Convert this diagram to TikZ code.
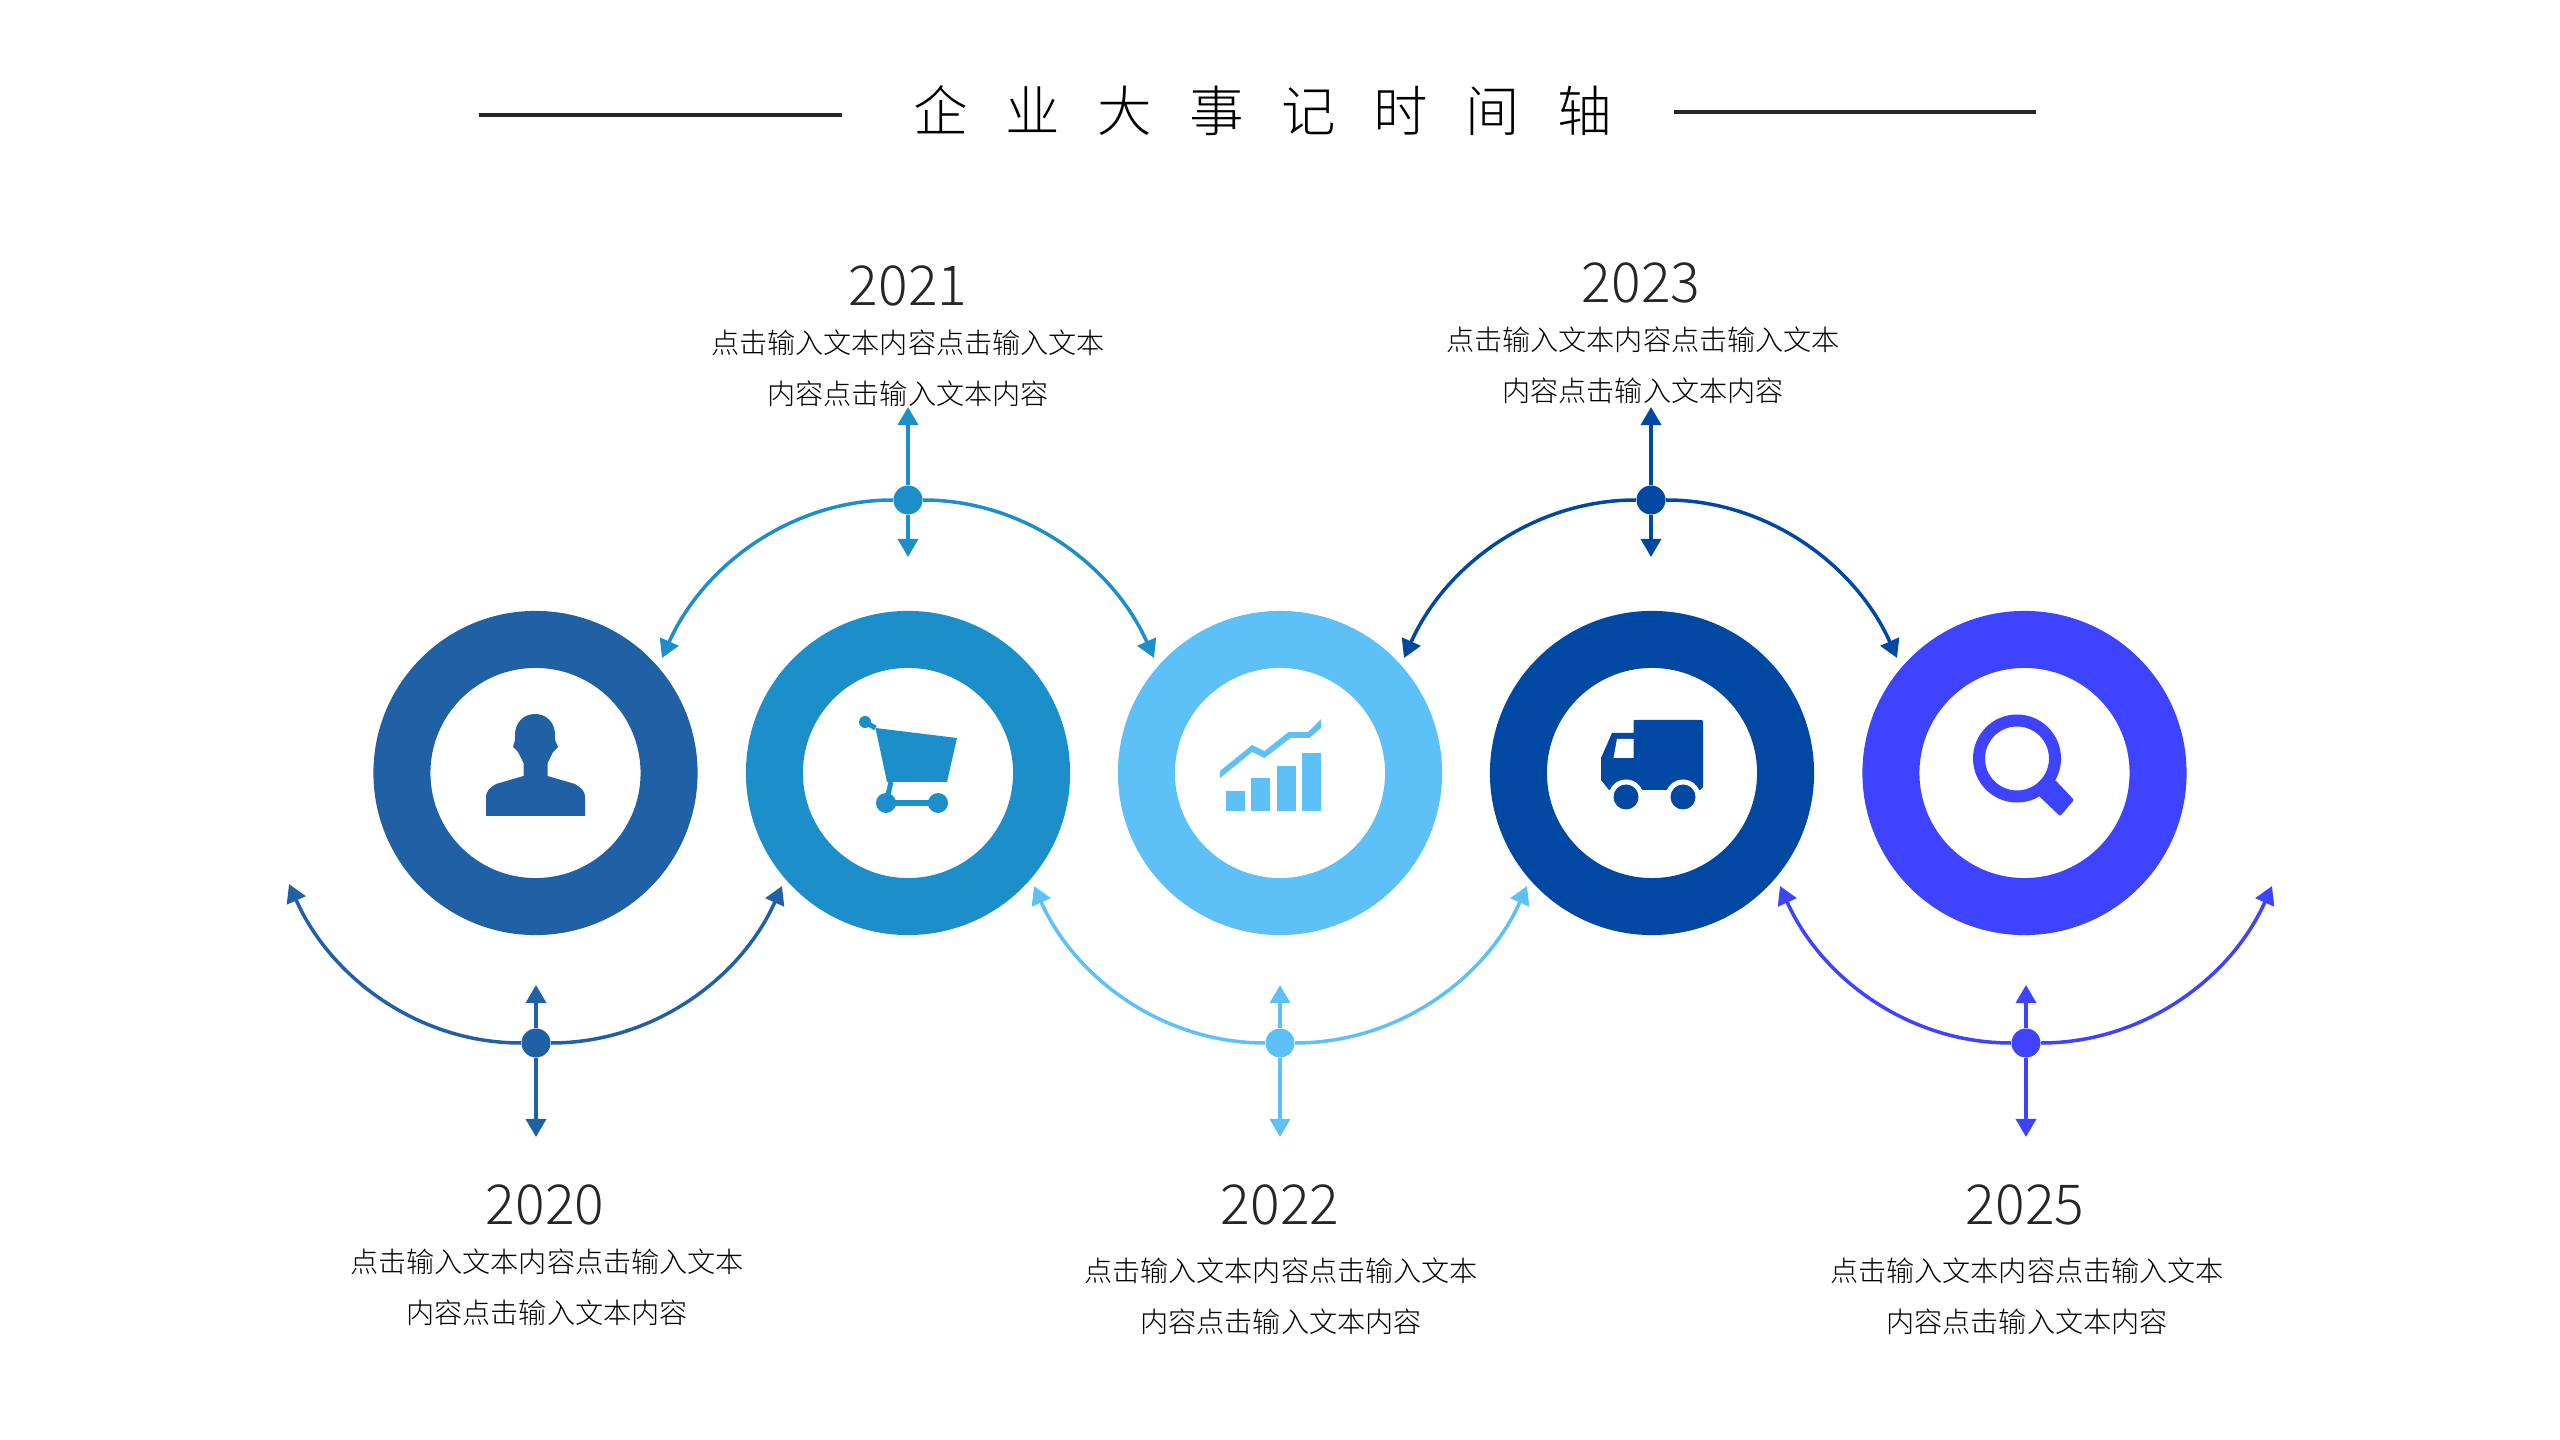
\documentclass[tikz,border=0pt]{standalone}
\usepackage{fontspec}
\usetikzlibrary{arrows.meta}
\newfontfamily\cjk{Noto Sans CJK SC Light}
\definecolor{blueA}{HTML}{2060A4}
\definecolor{blueB}{HTML}{1C8FCA}
\definecolor{blueC}{HTML}{5DC0F7}
\definecolor{blueD}{HTML}{0048A2}
\definecolor{blueE}{HTML}{3E43FF}
\definecolor{ink}{HTML}{262626}
\newcommand{\tgap}{\hspace{3.75mm}}
\tikzset{
	ring/.style={circle,draw=#1,fill=white,line width=5.7mm,minimum size=26.7mm,inner sep=0pt},
	dot/.style={circle,fill=#1,minimum size=2.9mm,inner sep=0pt},
	link/.style={->,draw=#1,line width=.35mm},
	year/.style={text=ink,font=\cjk\fontsize{15.7}{17}\selectfont},
	desc/.style={text=black,align=center,font=\cjk\fontsize{8}{14.5}\selectfont},
}
\begin{document}
\begin{tikzpicture}[x=.01cm,y=-.01cm,>={Triangle[width=2mm,length=1.8mm]}]
	\useasboundingbox (0,0) rectangle (2560,1440);
	% title
	\node[text=black,font=\cjk\fontsize{15.5}{17}\selectfont] (title) at (1263,111) {企\tgap 业\tgap 大\tgap 事\tgap 记\tgap 时\tgap 间\tgap 轴};
	\coordinate (la) at (479,115);
	\coordinate (lb) at (842,115);
	\coordinate (ra) at (1674,112);
	\coordinate (rb) at (2036,112);
	\draw[ink,line width=.4mm] (la) -- (lb);
	\draw[ink,line width=.4mm] (ra) -- (rb);
	% rings
	\node[ring=blueA] (c1) at (535.5,773) {};
	\node[ring=blueB] (c2) at (908,773) {};
	\node[ring=blueC] (c3) at (1280,773) {};
	\node[ring=blueD] (c4) at (1652,773) {};
	\node[ring=blueE] (c5) at (2024.5,773) {};
	% dots
	\node[dot=blueA] (d1) at (536,1043) {};
	\node[dot=blueB] (d2) at (908,500) {};
	\node[dot=blueC] (d3) at (1280,1043) {};
	\node[dot=blueD] (d4) at (1651,500) {};
	\node[dot=blueE] (d5) at (2026,1043) {};
	% arrow ends
	\coordinate (a1) at (289,884);
	\coordinate (b1) at (782,886);
	\coordinate (u1) at (536,985);
	\coordinate (v1) at (536,1137);
	\coordinate (a2) at (662,658);
	\coordinate (b2) at (1154,658);
	\coordinate (u2) at (908,407);
	\coordinate (v2) at (908,557);
	\coordinate (a3) at (1034,886);
	\coordinate (b3) at (1527,886);
	\coordinate (u3) at (1280,985);
	\coordinate (v3) at (1280,1137);
	\coordinate (a4) at (1404,658);
	\coordinate (b4) at (1897,658);
	\coordinate (u4) at (1651,407);
	\coordinate (v4) at (1651,557);
	\coordinate (a5) at (1780,886);
	\coordinate (b5) at (2272,886);
	\coordinate (u5) at (2026,985);
	\coordinate (v5) at (2026,1137);
	% connectors
	\draw[link=blueA] (d1) to[out=180,in=-66,looseness=.93] (a1);
	\draw[link=blueA] (d1) to[out=0,in=-114,looseness=.93] (b1);
	\draw[link=blueA] (d1) -- (u1);
	\draw[link=blueA] (d1) -- (v1);
	\draw[link=blueB] (d2) to[out=180,in=66,looseness=.93] (a2);
	\draw[link=blueB] (d2) to[out=0,in=114,looseness=.93] (b2);
	\draw[link=blueB] (d2) -- (u2);
	\draw[link=blueB] (d2) -- (v2);
	\draw[link=blueC] (d3) to[out=180,in=-66,looseness=.93] (a3);
	\draw[link=blueC] (d3) to[out=0,in=-114,looseness=.93] (b3);
	\draw[link=blueC] (d3) -- (u3);
	\draw[link=blueC] (d3) -- (v3);
	\draw[link=blueD] (d4) to[out=180,in=66,looseness=.93] (a4);
	\draw[link=blueD] (d4) to[out=0,in=114,looseness=.93] (b4);
	\draw[link=blueD] (d4) -- (u4);
	\draw[link=blueD] (d4) -- (v4);
	\draw[link=blueE] (d5) to[out=180,in=-66,looseness=.93] (a5);
	\draw[link=blueE] (d5) to[out=0,in=-114,looseness=.93] (b5);
	\draw[link=blueE] (d5) -- (u5);
	\draw[link=blueE] (d5) -- (v5);
	% labels
	\node[year] (y1) at (545,1205) {2020};
	\node[desc] (t1) at (547,1287) {点击输入文本内容点击输入文本\\内容点击输入文本内容};
	\node[year] (y2) at (908,286) {2021};
	\node[desc] (t2) at (908,368) {点击输入文本内容点击输入文本\\内容点击输入文本内容};
	\node[year] (y3) at (1280,1205) {2022};
	\node[desc] (t3) at (1281,1296) {点击输入文本内容点击输入文本\\内容点击输入文本内容};
	\node[year] (y4) at (1641,283) {2023};
	\node[desc] (t4) at (1643,365) {点击输入文本内容点击输入文本\\内容点击输入文本内容};
	\node[year] (y5) at (2025,1205) {2025};
	\node[desc] (t5) at (2027,1296) {点击输入文本内容点击输入文本\\内容点击输入文本内容};
	% person
	\fill[blueA] (486,816) -- (486,798) .. controls (486,790) and (490,788) .. (496,784) -- (523.5,776) -- (523.5,763) -- (518,752) -- (513,747) -- (515,740) -- (515,735) .. controls (515,722) and (524,714) .. (535,714) .. controls (546,714) and (555,722) .. (555,735) -- (555,740) -- (558,747) -- (553,752) -- (547.5,763) -- (547.5,776) -- (575,784) .. controls (581,788) and (585,790) .. (585,798) -- (585,816) -- cycle;
	% cart
	\fill[blueB] (875.5,728) -- (957,738) -- (947,782) -- (887,782) -- cycle;
	\fill[blueB] (865,722) circle (6);
	\fill[blueB] (886,803) circle (10);
	\fill[blueB] (938,803) circle (10);
	\draw[blueB,line width=.5mm] (865,722) -- (875.5,728);
	\draw[blueB,line width=.5mm] (886,803) -- (938,803);
	\draw[blueB,line width=.5mm] (891,782) -- (886,803);
	% chart
	\fill[blueC] (1225.7,791) rectangle (1245,811);
	\fill[blueC] (1251,778) rectangle (1270,811);
	\fill[blueC] (1276.6,766) rectangle (1296,811);
	\fill[blueC] (1302,753) rectangle (1321,811);
	\fill[blueC] (1220,778) -- (1220,771) -- (1252,745) -- (1264.5,751) -- (1288.6,732) -- (1308,732) -- (1321,719) -- (1321,728) -- (1309.4,738) -- (1290.6,738) -- (1264.5,758) -- (1252,752) -- cycle;
	% truck
	\fill[blueD] (1633.6,722) .. controls (1633.6,720) .. (1636,720) -- (1700,720) .. controls (1703,720) .. (1703,723) -- (1703,787) -- (1700,790) -- (1609,790) -- (1601,780) -- (1601,758) -- (1612,733) -- (1633.6,733) -- cycle;
	\fill[white] (1617,739) -- (1633.6,739) -- (1633.6,758) -- (1613.5,758) -- cycle;
	\fill[white] (1626,797) circle (17.5);
	\fill[white] (1683,797) circle (17.5);
	\fill[blueD] (1626,797) circle (12.5);
	\fill[blueD] (1683,797) circle (12.5);
	% magnifier
	\draw[blueE,line width=1.2mm] (2017,758.5) circle (38);
	\fill[blueE,draw=blueE,line width=.3mm,line join=round] (2055,782) -- (2072,800) -- (2060,814) -- (2041,796) -- cycle;
\end{tikzpicture}
\end{document}
